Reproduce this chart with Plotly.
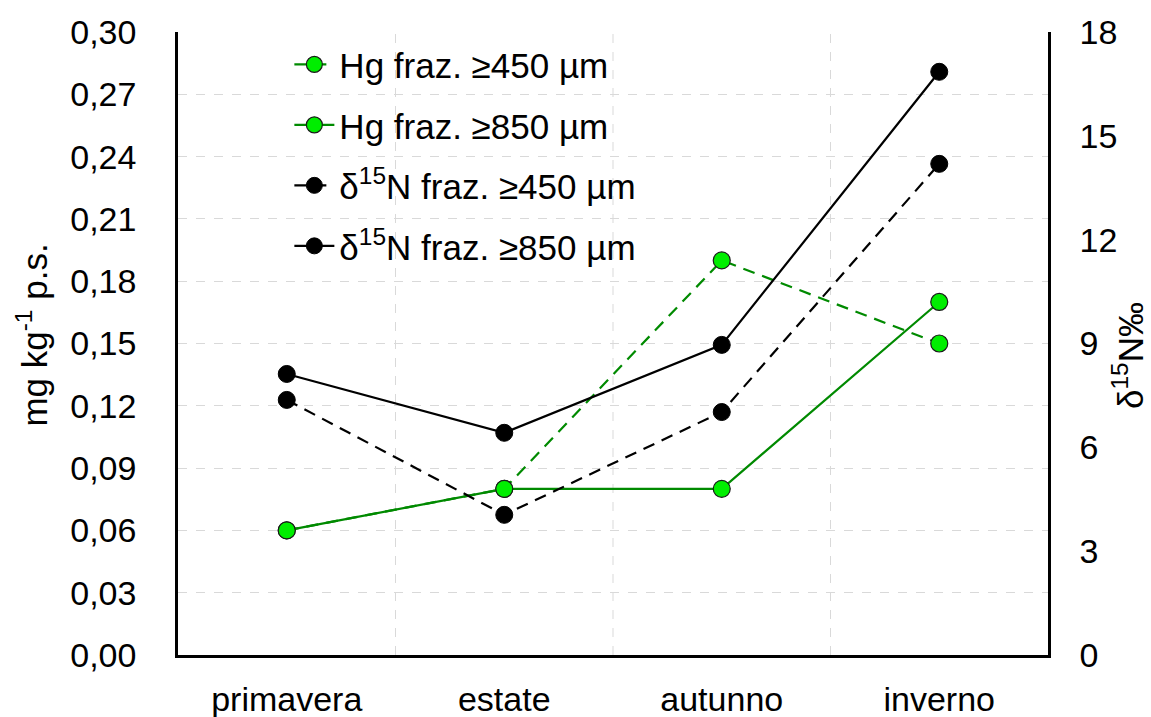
import plotly.graph_objects as go

seasons = ["primavera", "estate", "autunno", "inverno"]
hg_450 = [0.06, 0.08, 0.19, 0.15]
hg_850 = [0.06, 0.08, 0.08, 0.17]
d15n_450 = [7.37, 4.05, 7.02, 14.19]
d15n_850 = [8.12, 6.42, 8.96, 16.85]

left_ticks = [0, 0.03, 0.06, 0.09, 0.12, 0.15, 0.18, 0.21, 0.24, 0.27, 0.30]
right_ticks = [0, 3, 6, 9, 12, 15, 18]

GREEN_LINE = "#008a00"
GREEN_FILL = "#00ee00"
FONT = "Liberation Sans, Arial, sans-serif"
TICK_SIZE = 34
LEG_SIZE = 35
DASH = "12px,8px"

fig = go.Figure()
fig.add_trace(go.Scatter(
    x=seasons, y=hg_450, name="Hg fraz. ≥450 µm", mode="lines+markers",
    line=dict(color=GREEN_LINE, width=2.2, dash=DASH), legendgroup="a",
    marker=dict(size=17, color=GREEN_FILL, line=dict(color="#1a1a1a", width=1.2)),
))
fig.add_trace(go.Scatter(
    x=seasons, y=hg_850, name="Hg fraz. ≥850 µm", mode="lines+markers",
    line=dict(color=GREEN_LINE, width=2.2), legendgroup="b",
    marker=dict(size=17, color=GREEN_FILL, line=dict(color="#1a1a1a", width=1.2)),
))
fig.add_trace(go.Scatter(
    x=seasons, y=d15n_450, name="δ<sup>15</sup>N fraz. ≥450 µm", mode="lines+markers",
    line=dict(color="black", width=2.2, dash=DASH), legendgroup="c",
    marker=dict(size=17, color="black", line=dict(color="black", width=1)),
    yaxis="y2",
))
fig.add_trace(go.Scatter(
    x=seasons, y=d15n_850, name="δ<sup>15</sup>N fraz. ≥850 µm", mode="lines+markers",
    line=dict(color="black", width=2.2), legendgroup="d",
    marker=dict(size=17, color="black", line=dict(color="black", width=1)),
    yaxis="y2",
))

fig.update_layout(
    width=1151, height=717,
    margin=dict(l=178, r=103, t=32, b=62),
    paper_bgcolor="white", plot_bgcolor="white",
    separators=", ",
    font=dict(family=FONT, size=TICK_SIZE, color="black"),
    showlegend=True,
    legend=dict(
        x=0.128, y=0.995, xanchor="left", yanchor="top",
        bgcolor="rgba(255,255,255,0)", font=dict(size=LEG_SIZE, family=FONT),
        tracegroupgap=12, itemwidth=40,
    ),
    xaxis=dict(
        type="category", categoryorder="array", categoryarray=seasons,
        range=[-0.5, 3.5], showline=True, linecolor="black", linewidth=2.5,
        showgrid=False, ticks="", tickfont=dict(size=TICK_SIZE), mirror=False,
        ticklabelstandoff=12, automargin=False,
    ),
    yaxis=dict(
        range=[0, 0.30], tickvals=left_ticks, tickformat=".2f",
        showline=True, linecolor="black", linewidth=2.5,
        showgrid=True, gridcolor="#d9d9d9", griddash="dash", gridwidth=1,
        zeroline=False, ticks="", ticklabelstandoff=32, automargin=False,
        tickfont=dict(size=TICK_SIZE),
    ),
    yaxis2=dict(
        range=[0, 18], tickvals=right_ticks, overlaying="y", side="right",
        showline=True, linecolor="black", linewidth=2.5, showgrid=False,
        zeroline=False, ticks="", ticklabelstandoff=22, automargin=False,
        tickfont=dict(size=TICK_SIZE),
    ),
    annotations=[
        dict(text="mg kg<sup>-1</sup> p.s.", xref="paper", yref="paper",
             x=-0.168, y=0.514, xanchor="center", yanchor="middle",
             textangle=-90, showarrow=False, font=dict(size=35, family=FONT)),
        dict(text="δ<sup>15</sup>N‰", xref="paper", yref="paper",
             x=1.092, y=0.48, xanchor="center", yanchor="middle",
             textangle=-90, showarrow=False, font=dict(size=35, family=FONT)),
    ],
)

# vertical dashed gridlines at category boundaries
for b in [0.5, 1.5, 2.5]:
    fig.add_shape(type="line", xref="x", yref="paper", x0=b, x1=b, y0=0, y1=1,
                  line=dict(color="#d9d9d9", width=1, dash="dash"), layer="below")

fig.write_html("out.html")
